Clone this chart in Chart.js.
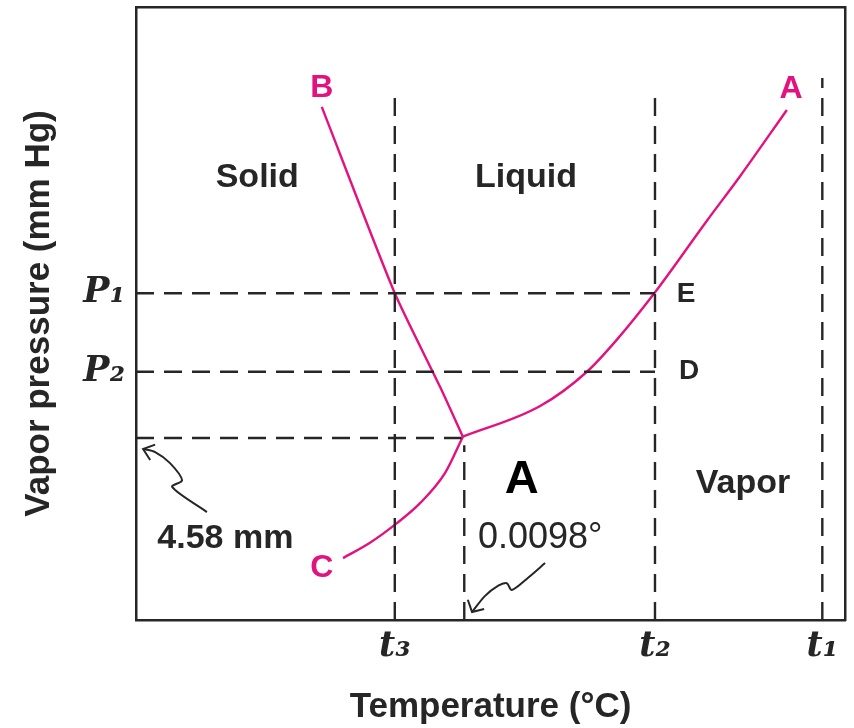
<!DOCTYPE html>
<html>
<head>
<meta charset="utf-8">
<script src="https://cdn.jsdelivr.net/npm/chart.js@4/dist/chart.umd.min.js"></script>
<style>
  html, body { margin: 0; padding: 0; background: #ffffff; }
  #wrap { width: 854px; height: 728px; }
</style>
</head>
<body>
<div id="wrap"><canvas id="c" width="854" height="728"></canvas></div>
<script>
// ---- Data (arbitrary temperature / pressure units, 0..100) ----
// Liquid–vapor curve (triple point -> A)
const curveAX = [46.1, 57.0, 63.6, 67.8, 73.1, 80.5, 85.2, 91.8];
const curveAY = [29.9, 34.9, 40.5, 45.7, 53.3, 65.1, 72.4, 83.2];
// Solid–vapor curve (C -> triple point)
const curveCX = [29.2, 33.0, 36.8, 40.1, 43.6, 46.1];
const curveCY = [10.1, 12.6, 15.8, 19.1, 24.0, 29.9];
// Solid–liquid line (B -> triple point)
const lineBX = [26.2, 36.5, 42.9, 46.1];
const lineBY = [83.7, 53.3, 38.0, 29.9];

// Tick values and labels
const xTickValues = [36.5, 73.2, 96.8];
const xTickLabels = ['t\u2083', 't\u2082', 't\u2081'];
const yTickValues = [53.3, 40.5];
const yTickLabels = ['P\u2081', 'P\u2082'];

// Reference levels
const tripleT = 46.3;
const tripleP = 29.7;
const guideTops = [85.3, 86.8, 88.4];   // tops of t3, t2, t1 dashed guides

// Annotation arrows (squiggles)
const arrow1X = [10.0, 5.1, 6.5, 4.8, 2.7, 1.0];
const arrow1Y = [17.6, 21.7, 22.8, 25.6, 27.4, 27.9];
const head1X = [2.7, 1.0, 2.0];
const head1Y = [28.6, 27.9, 26.1];
const arrow2X = [57.7, 55.3, 53.0, 52.3, 51.1, 49.2, 47.4];
const arrow2Y = [9.3, 6.9, 4.9, 6.0, 5.6, 3.9, 1.3];
const head2X = [46.8, 47.4, 49.1];
const head2Y = [3.3, 1.3, 1.8];

const zip = (xs, ys) => xs.map((x, i) => ({ x: x, y: ys[i] }));

const PINK = '#e2127e';
const INK = '#262626';
const DASH = [18, 10];

function guide(points) {
  return { data: points, borderColor: INK, borderWidth: 2.4, borderDash: DASH,
           pointRadius: 0, tension: 0, fill: false };
}
function curve(points, t, mono) {
  return { data: points, borderColor: PINK, borderWidth: 2.4, pointRadius: 0,
           fill: false, tension: t, cubicInterpolationMode: mono ? 'monotone' : 'default' };
}
function squiggle(points, t) {
  return { data: points, borderColor: INK, borderWidth: 2, pointRadius: 0,
           fill: false, tension: t };
}

const datasets = [
  guide([{ x: xTickValues[0], y: 0 }, { x: xTickValues[0], y: guideTops[0] }]),
  guide([{ x: xTickValues[1], y: 0 }, { x: xTickValues[1], y: guideTops[1] }]),
  guide([{ x: xTickValues[2], y: 0 }, { x: xTickValues[2], y: guideTops[2] }]),
  guide([{ x: tripleT, y: 0 }, { x: tripleT, y: tripleP - 1.2 }]),
  guide([{ x: 0, y: yTickValues[0] }, { x: xTickValues[1], y: yTickValues[0] }]),
  guide([{ x: 0, y: yTickValues[1] }, { x: xTickValues[1], y: yTickValues[1] }]),
  guide([{ x: 0, y: tripleP }, { x: tripleT - 0.4, y: tripleP }]),
  curve(zip(curveAX, curveAY), 0.4, true),
  curve(zip(curveCX, curveCY), 0.4, true),
  curve(zip(lineBX, lineBY), 0.2, false),
  squiggle(zip(arrow1X, arrow1Y), 0.3),
  squiggle(zip(head1X, head1Y), 0),
  squiggle(zip(arrow2X, arrow2Y), 0.3),
  squiggle(zip(head2X, head2Y), 0)
];

// Text annotations placed in data coordinates
const annotations = [
  { text: 'Solid',   x: 17.1, y: 72.1, font: 'bold 34px "Liberation Sans"', color: INK },
  { text: 'Liquid',  x: 55.0, y: 72.1, font: 'bold 34px "Liberation Sans"', color: INK },
  { text: 'Vapor',   x: 85.6, y: 22.2, font: 'bold 34px "Liberation Sans"', color: INK },
  { text: 'A',       x: 54.4, y: 22.9, font: 'bold 47px "Liberation Sans"', color: '#000' },
  { text: 'E',       x: 77.6, y: 53.1, font: 'bold 28px "Liberation Sans"', color: INK },
  { text: 'D',       x: 78.0, y: 40.5, font: 'bold 28px "Liberation Sans"', color: INK },
  { text: '4.58 mm', x: 12.6, y: 13.2, font: 'bold 34px "Liberation Sans"', color: INK },
  { text: '0.0098\u00b0', x: 57.0, y: 13.3, font: '36px "Liberation Sans"', color: INK },
  { text: 'B',       x: 26.2, y: 86.8, font: 'bold 32px "Liberation Sans"', color: PINK },
  { text: 'A',       x: 92.4, y: 86.6, font: 'bold 32px "Liberation Sans"', color: PINK },
  { text: 'C',       x: 26.2, y: 8.4,  font: 'bold 32px "Liberation Sans"', color: PINK }
];

const textPlugin = {
  id: 'textLabels',
  afterDatasetsDraw(chart) {
    const { ctx, scales } = chart;
    ctx.save();
    ctx.textAlign = 'center';
    ctx.textBaseline = 'middle';
    annotations.forEach(a => {
      ctx.font = a.font;
      ctx.fillStyle = a.color;
      ctx.fillText(a.text, scales.x.getPixelForValue(a.x), scales.y.getPixelForValue(a.y));
    });
    ctx.restore();
  }
};

const tickFont = { family: '"DejaVu Serif"', style: 'italic', weight: 'bold', size: 35 };
const titleFont = { family: '"Liberation Sans"', weight: 'bold', size: 35 };
const axisBorder = { display: true, color: INK, width: 2.5 };

function fixSize(prop, val) {
  return s => {
    s[prop] = val;
    s.paddingTop = 0; s.paddingBottom = 0; s.paddingLeft = 0; s.paddingRight = 0;
  };
}

new Chart(document.getElementById('c'), {
  type: 'line',
  data: { datasets: datasets },
  plugins: [textPlugin],
  options: {
    responsive: false,
    animation: false,
    layout: { padding: 0 },
    plugins: { legend: { display: false }, tooltip: { enabled: false } },
    scales: {
      x: {
        type: 'linear', position: 'bottom', min: 0, max: 100,
        grid: { display: false, drawTicks: false },
        border: axisBorder,
        afterBuildTicks: s => { s.ticks = xTickValues.map(v => ({ value: v })); },
        afterFit: fixSize('height', 108),
        ticks: {
          autoSkip: false, maxRotation: 0, padding: 6, color: INK, font: tickFont,
          callback: (v, i) => xTickLabels[i]
        },
        title: { display: true, text: 'Temperature (\u00b0C)', color: INK, font: titleFont,
                 padding: { top: 0, bottom: 0 } }
      },
      y: {
        type: 'linear', position: 'left', min: 0, max: 100,
        grid: { display: false, drawTicks: false },
        border: axisBorder,
        afterBuildTicks: s => { s.ticks = yTickValues.map(v => ({ value: v })); },
        afterFit: fixSize('width', 136),
        ticks: {
          autoSkip: false, padding: 11, color: INK, font: tickFont,
          callback: (v, i) => yTickLabels[i]
        },
        title: { display: true, text: 'Vapor pressure (mm Hg)', color: INK, font: titleFont,
                 padding: { top: 18, bottom: 0 } }
      },
      x2: {
        type: 'linear', position: 'top', min: 0, max: 100,
        grid: { display: false, drawTicks: false },
        border: axisBorder,
        ticks: { display: false },
        afterFit: fixSize('height', 7)
      },
      y2: {
        type: 'linear', position: 'right', min: 0, max: 100,
        grid: { display: false, drawTicks: false },
        border: axisBorder,
        ticks: { display: false },
        afterFit: fixSize('width', 9)
      }
    }
  }
});
</script>
</body>
</html>
